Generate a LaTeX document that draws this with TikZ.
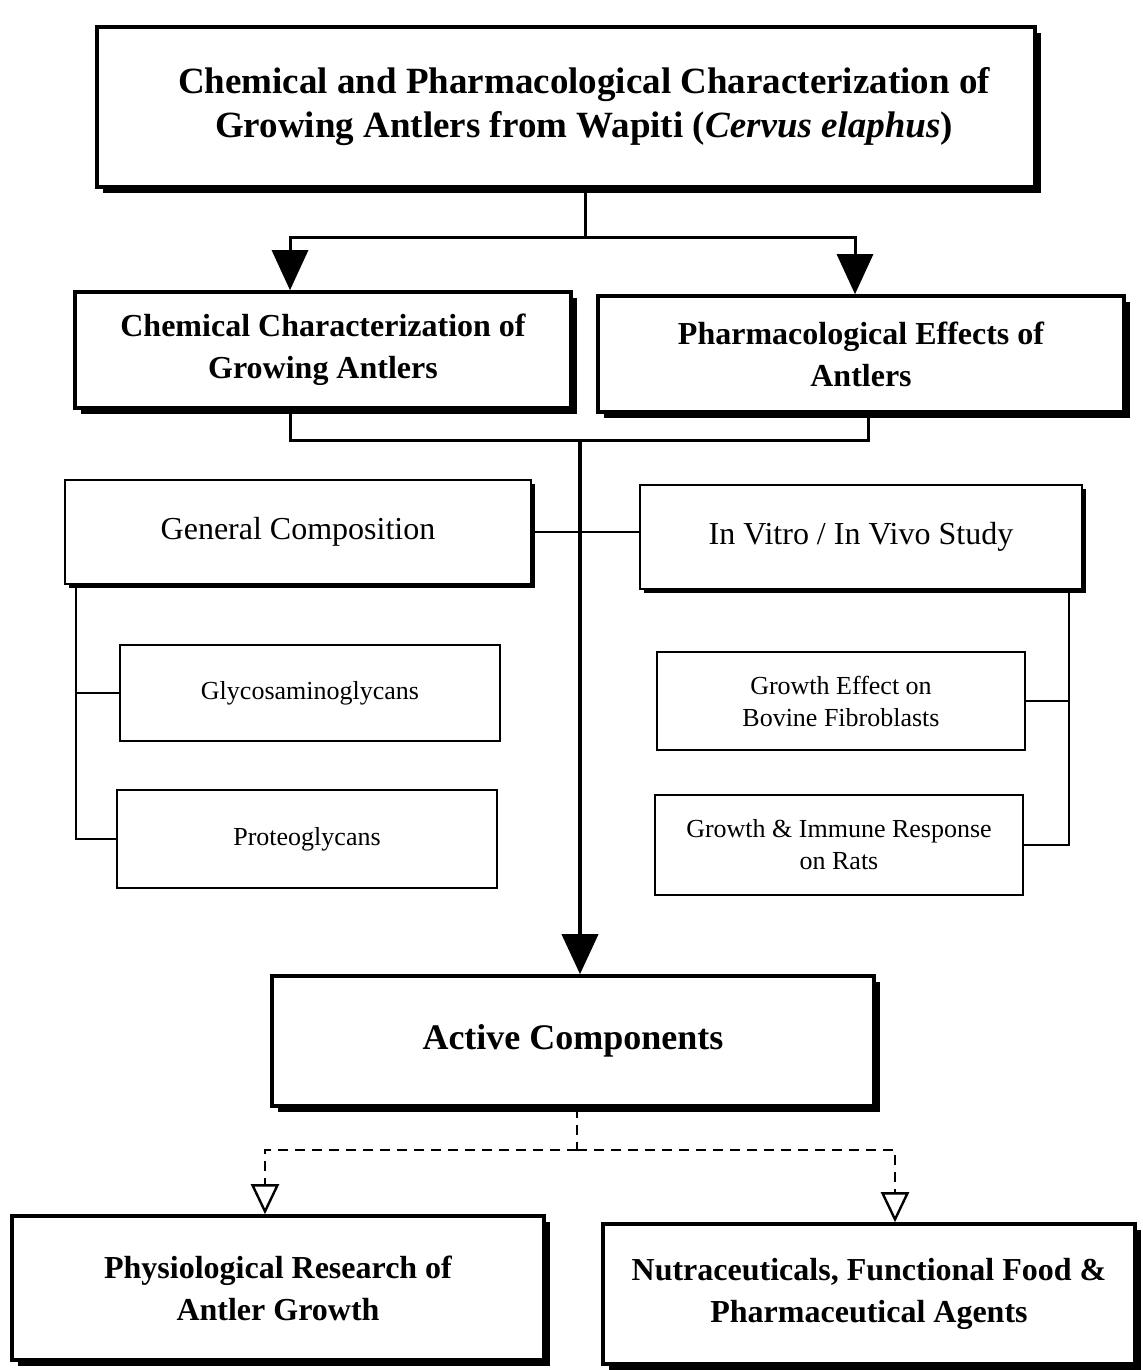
\documentclass[tikz,border=0pt]{standalone}
\usepackage{fontspec}
\setmainfont{Liberation Serif}
\usetikzlibrary{arrows.meta,shadows}
\tikzset{
	headbox/.style={draw, line width=2pt, fill=white, align=center,
		general shadow={fill=black, shadow xshift=3pt, shadow yshift=-3pt},
		font=\fontsize{18.5}{22}\selectfont\bfseries},
	mainbox/.style={draw, line width=1.8pt, fill=white, align=center,
		general shadow={fill=black, shadow xshift=3pt, shadow yshift=-3pt},
		font=\fontsize{16}{21}\selectfont\bfseries},
	subbox/.style={draw, line width=1pt, fill=white, align=center,
		general shadow={fill=black, shadow xshift=2pt, shadow yshift=-2pt},
		font=\fontsize{16}{20}\selectfont},
	leafbox/.style={draw, line width=1pt, fill=white, align=center,
		font=\fontsize{13}{16}\selectfont},
	bigarr/.style={line width=1.5pt, -{Triangle[width=18pt,length=20pt]}},
	openarr/.style={line width=1.2pt, dash pattern=on 5pt off 3.5pt,
		-{Triangle[open,width=14pt,length=15pt]}},
}
\begin{document}
\begin{tikzpicture}[x=0.5pt, y=-0.5pt]
			\useasboundingbox (0,0) rectangle (1143,1370);
			\fill[white] (0,0) rectangle (1143,1370);
			\node[headbox, minimum width=469pt, minimum height=80pt] (title) at (566,107)
				{\hspace*{18pt}Chemical and Pharmacological Characterization of\\
				\hspace*{18pt}Growing Antlers from Wapiti (\textit{Cervus elaphus})};
			\node[mainbox, minimum width=248pt, minimum height=58pt] (chem) at (323,350)
				{Chemical Characterization of\\Growing Antlers};
			\node[mainbox, minimum width=263pt, minimum height=58pt] (pharm) at (861,354)
				{Pharmacological Effects of\\Antlers};
			\node[subbox, minimum width=233pt, minimum height=52pt] (gen) at (298,532) {General Composition};
			\node[subbox, minimum width=221pt, minimum height=52pt] (vivo) at (861,537) {In Vitro / In Vivo Study};
			\node[leafbox, minimum width=190pt, minimum height=48pt] (glyco) at (310,693) {Glycosaminoglycans};
			\node[leafbox, minimum width=190pt, minimum height=49pt] (proteo) at (307,839) {Proteoglycans};
			\node[leafbox, minimum width=184pt, minimum height=49pt] (growth) at (841,701)
				{Growth Effect on\\Bovine Fibroblasts};
			\node[leafbox, minimum width=184pt, minimum height=50pt] (rats) at (839,845)
				{Growth \& Immune Response\\on Rats};
			\node[mainbox, minimum width=301pt, minimum height=65pt, font=\fontsize{18}{22}\selectfont\bfseries]
				(active) at (573,1041) {Active Components};
			\node[mainbox, minimum width=266pt, minimum height=72pt] (physio) at (278,1288)
				{Physiological Research of\\Antler Growth};
			\node[mainbox, minimum width=266pt, minimum height=70pt] (nutra) at (869,1294)
				{Nutraceuticals, Functional Food \&\\Pharmaceutical Agents};
			% title to the two studies
			\coordinate (split) at (585,237);
			\draw[line width=1.5pt] (title.south -| split) -- (split);
			\draw[bigarr] (split) -| ([xshift=-16.5pt]chem.north);
			\draw[bigarr] (split) -| ([xshift=-3pt]pharm.north);
			% both studies to active components
			\coordinate (join) at (580,440);
			\draw[line width=1.5pt] ([xshift=-16.5pt]chem.south) |- (join) -| ([xshift=3.5pt]pharm.south);
			\draw[bigarr, line width=2pt] (join) -- (join |- active.north);
			\draw[line width=1pt] (gen.east) -- (gen.east -| vivo.west);
			\draw[line width=1pt] ([xshift=6pt]gen.south west) |- (glyco.west);
			\draw[line width=1pt] ([xshift=6pt]gen.south west) |- (proteo.west);
			\draw[line width=1pt] ([xshift=-7pt]vivo.south east) |- (growth.east);
			\draw[line width=1pt] ([xshift=-7pt]vivo.south east) |- (rats.east);
			% applications
			\coordinate (fork) at (577,1150);
			\draw[line width=1.2pt, dash pattern=on 5pt off 3.5pt] (active.south -| fork) -- (fork);
			\draw[openarr] (fork) -| ([xshift=-6.5pt]physio.north);
			\draw[openarr] (fork) -| ([xshift=13pt]nutra.north);
	\end{tikzpicture}
\end{document}
